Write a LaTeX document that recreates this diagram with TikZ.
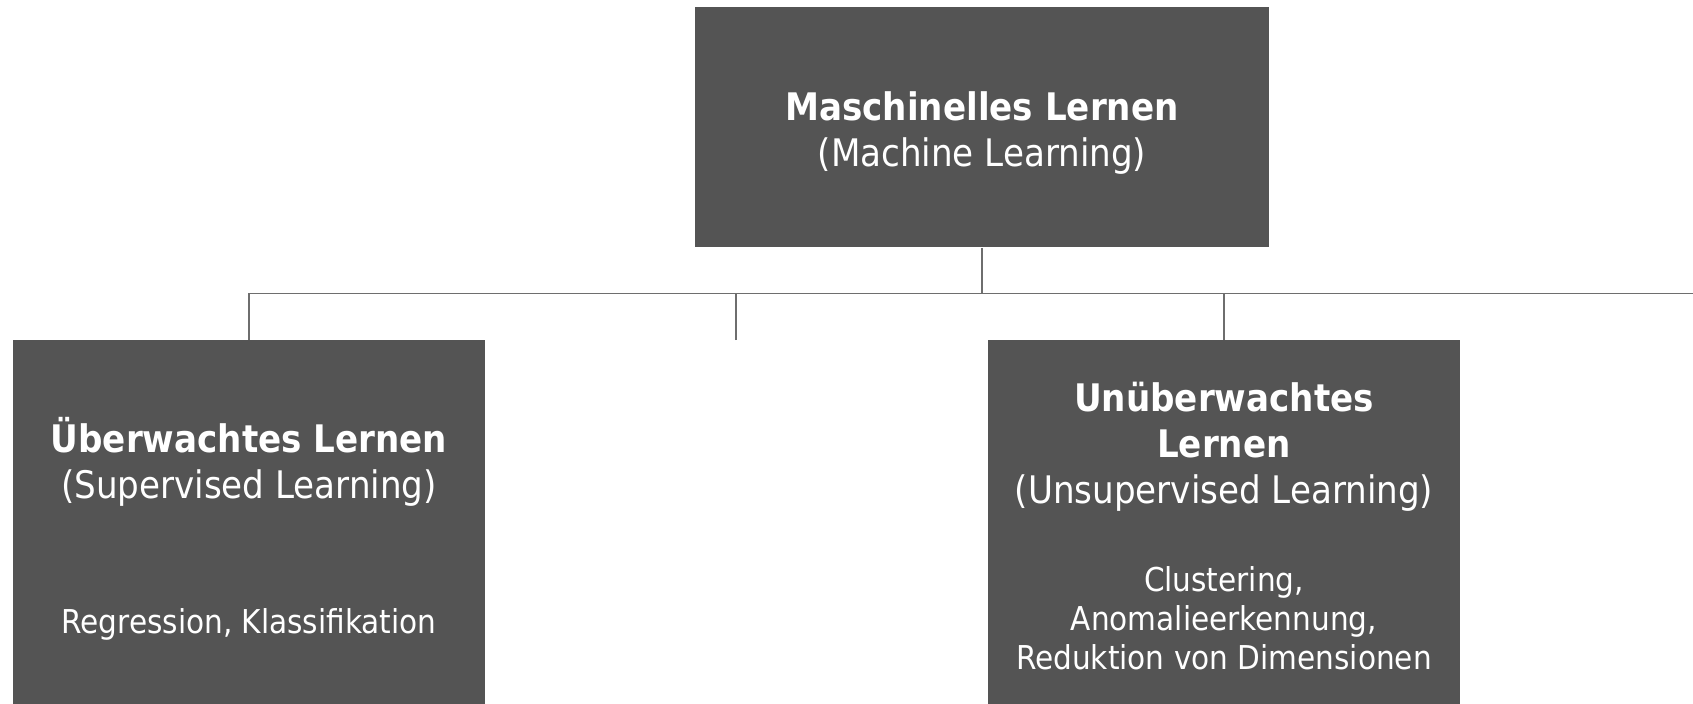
\documentclass[tikz,border=0pt]{standalone}
\usepackage{fontspec}
\setmainfont{DejaVu Sans Condensed}[BoldFont={DejaVu Sans Condensed Bold}]
\usetikzlibrary{positioning}
\definecolor{boxgray}{HTML}{545454}
\definecolor{linegray}{HTML}{6E6E6E}

\begin{document}
\begin{tikzpicture}[x=0.02cm,y=-0.02cm]
  \tikzstyle{element}=[rectangle, fill=boxgray, minimum width=9.44cm, minimum height=8.4cm, inner sep=0pt, anchor=north]
  \tikzstyle{branch}=[draw=linegray, line width=1.1pt]
  \tikzstyle{caption}=[text=white, align=center, inner sep=0pt, anchor=base, font=\fontsize{21.6}{26}\selectfont]
  \tikzstyle{detail}=[text=white, align=center, inner sep=0pt, anchor=base, font=\fontsize{18.7}{22.2}\selectfont]

  \useasboundingbox (0,0) rectangle (1693,703);
  \clip (0,0) rectangle (1693,703);

  % root
  \node[element, minimum width=11.48cm, minimum height=4.82cm, anchor=center] (ml) at (982,127) {};
  \node[caption] (mltitle) at (982,166) {\textbf{Maschinelles Lernen}\\(Machine Learning)};

  % supervised
  \node[element] (sl) at (249,340) {};
  \node[caption] (sltitle) at (249,498) {\textbf{Überwachtes Lernen}\\(Supervised Learning)};
  \node[detail] (sldetail) at (249,633) {Regression, Klassifikation};

  % unsupervised
  \node[element] (ul) at (1224,340) {};
  \node[caption] (ultitle) at (1224,503) {\textbf{Unüberwachtes}\\\textbf{Lernen}\\(Unsupervised Learning)};
  \node[detail] (uldetail) at (1224,669) {Clustering,\\Anomalieerkennung,\\Reduktion von Dimensionen};

  % empty slot and branch running off the page
  \coordinate (empty) at (736,340);
  \coordinate (offpage) at (1712,340);

  \coordinate (bus) at (982,293.5);
  \draw[branch] (ml.south) -- (bus);
  \draw[branch] (sl.north) -- (sl.north |- bus) -- (offpage |- bus) -- (offpage);
  \draw[branch] (empty) -- (empty |- bus);
  \draw[branch] (ul.north) -- (ul.north |- bus);
\end{tikzpicture}
\end{document}
